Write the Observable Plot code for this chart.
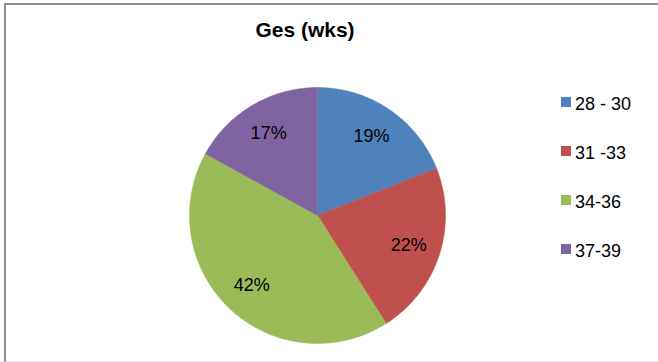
<!DOCTYPE html>
<html>
<head>
<meta charset="utf-8">
<script src="https://cdn.jsdelivr.net/npm/d3@7"></script>
<script src="https://cdn.jsdelivr.net/npm/@observablehq/plot@0.6"></script>
<style>
  body { margin: 0; background: #fff; font-family: "Liberation Sans", Arial, sans-serif; }
  #chart { position: relative; width: 658px; height: 362px; overflow: hidden; background: #fff; }
  #chart svg { position: absolute; left: 0; top: 0; }
  #frame { position: absolute; left: 4px; top: 3px; width: 660px; height: 356px;
           border-left: 2px solid #8d8d8d; border-top: 2px solid #8d8d8d; border-bottom: 1px solid #ececec; pointer-events: none; }
  #title { position: absolute; left: 0; width: 610px; top: 18.7px; text-align: center;
           font-weight: bold; font-size: 21px; line-height: 21px; color: #000; }
  .row { position: absolute; left: 561px; height: 20px; display: flex; align-items: center; }
  .sw { width: 10px; height: 10px; margin-right: 4px; }
  .lab { font-size: 18px; line-height: 20px; color: #000; position: relative; top: 1.5px; white-space: pre; }
</style>
</head>
<body>
<div id="chart">
  <div id="frame"></div>
  <div id="title">Ges (wks)</div>
</div>
<script>
// Gestational age groups (weeks) and their share of cases, in percent
const groups = ["28 - 30", "31 -33", "34-36", "37-39"];
const shares = [19, 22, 42, 17];
const colors = ["#4F81BD", "#C0504D", "#9BBB59", "#8064A2"];

const W = 658, H = 362;
const cx = 317, cy = 215, R = 128;   // pie centre and radius in pixels

// Slice angles, clockwise from twelve o'clock, in input order
const arcs = d3.pie().sort(null).value(d => d.share)(
  groups.map((g, i) => ({group: g, share: shares[i]}))
);

// Outline of each slice as a closed polygon on the unit circle
const outline = [];
for (const a of arcs) {
  const n = Math.max(2, Math.ceil((a.endAngle - a.startAngle) / (Math.PI / 180)));
  outline.push({group: a.data.group, u: 0, v: 0});
  for (let k = 0; k <= n; k++) {
    const t = a.startAngle + (a.endAngle - a.startAngle) * k / n;
    outline.push({group: a.data.group, u: Math.sin(t), v: Math.cos(t)});
  }
}

// Percentage labels placed at three quarters of the radius
const labels = arcs.map(a => {
  const m = (a.startAngle + a.endAngle) / 2;
  return {group: a.data.group, share: a.data.share, u: 0.75 * Math.sin(m), v: 0.75 * Math.cos(m)};
});

const plot = Plot.plot({
  width: W,
  height: H,
  margin: 0,
  x: {domain: [-cx / R, (W - cx) / R], range: [0, W], axis: null},
  y: {domain: [(cy - H) / R, cy / R], range: [H, 0], axis: null},
  color: {domain: groups, range: colors},
  style: {background: "transparent", fontFamily: "'Liberation Sans', Arial, sans-serif"},
  marks: [
    Plot.line(outline, {x: "u", y: "v", z: "group", fill: "group", stroke: "group", strokeWidth: 0.5, curve: "linear-closed"}),
    Plot.text(labels, {x: "u", y: "v", text: d => d.share + "%", fontSize: 18, fill: "#000"})
  ]
});

const chart = document.getElementById("chart");
chart.insertBefore(plot, chart.firstChild);

// Legend down the right-hand side, coloured from the plot's own scale
const color = plot.scale("color");
const rowCentres = [102, 151, 200, 249];
groups.forEach((g, i) => {
  const row = document.createElement("div");
  row.className = "row";
  row.style.top = (rowCentres[i] - 10) + "px";
  const sw = document.createElement("div");
  sw.className = "sw";
  sw.style.background = color.apply(g);
  const lab = document.createElement("span");
  lab.className = "lab";
  lab.textContent = g;
  row.appendChild(sw);
  row.appendChild(lab);
  chart.appendChild(row);
});
</script>
</body>
</html>
